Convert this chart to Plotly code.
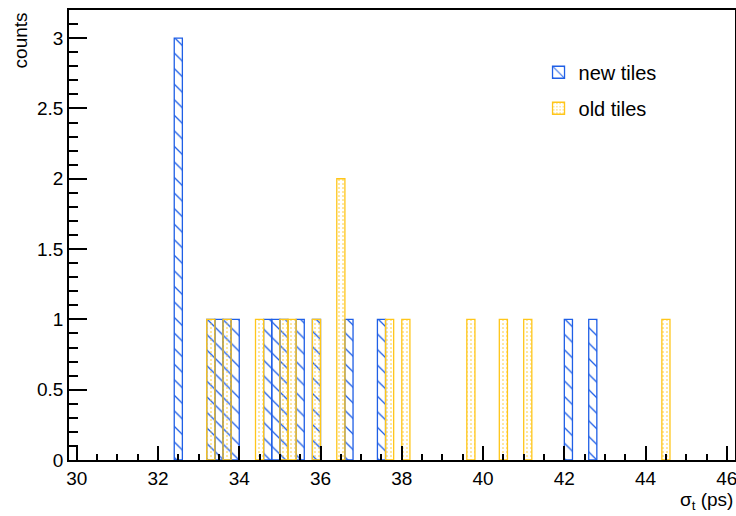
import plotly.graph_objects as go

# Bin width 0.2, bins starting at 29.8
bin_width = 0.2
new_centers = [32.5, 33.3, 33.5, 33.7, 33.9, 34.7, 34.9, 35.1, 35.5, 35.9, 36.7, 37.5, 42.1, 42.7]
new_counts = [3, 1, 1, 1, 1, 1, 1, 1, 1, 1, 1, 1, 1, 1]
old_centers = [33.3, 33.7, 34.5, 35.1, 35.3, 35.9, 36.5, 37.7, 38.1, 39.7, 40.5, 41.1, 44.5]
old_counts = [1, 1, 1, 1, 1, 1, 2, 1, 1, 1, 1, 1, 1]

blue = "#1f5fe6"
yellow = "#ffc61a"
font = "Liberation Sans, Arial, sans-serif"

fig = go.Figure()
fig.add_trace(go.Bar(
    x=new_centers, y=new_counts, width=bin_width, name="new tiles",
    legendgroup="new",
    marker=dict(color="rgba(0,0,0,0)", line=dict(color=blue, width=1.3),
                pattern=dict(shape="\\", fgcolor=blue, bgcolor="rgba(0,0,0,0)",
                             size=11, solidity=0.12, fillmode="replace")),
))
fig.add_trace(go.Bar(
    x=old_centers, y=old_counts, width=bin_width, name="old tiles",
    legendgroup="old",
    marker=dict(color="rgba(0,0,0,0)", line=dict(color=yellow, width=1.3),
                pattern=dict(shape=".", fgcolor=yellow, bgcolor="rgba(0,0,0,0)",
                             size=4, solidity=0.12, fillmode="replace")),
))

fig.update_layout(
    width=736, height=516,
    margin=dict(l=69, r=1, t=10, b=56),
    paper_bgcolor="white", plot_bgcolor="white",
    barmode="overlay",
    font=dict(family=font, size=19, color="black"),
    showlegend=True,
    legend=dict(x=0.705, y=0.905, xanchor="left", yanchor="top",
                bgcolor="rgba(0,0,0,0)", font=dict(size=20), itemwidth=30,
                traceorder="grouped", tracegroupgap=7),
    xaxis=dict(range=[29.81, 46.2], showgrid=False, zeroline=False,
               showline=True, linecolor="black", linewidth=1.5, mirror=True,
               ticks="inside", ticklen=14, tickwidth=1.5, tickcolor="black",
               tick0=30, dtick=2, automargin=False, ticklabeloverflow="allow",
               minor=dict(ticks="inside", ticklen=6, dtick=0.5, tickcolor="black", tickwidth=1.5),
               tickfont=dict(size=19)),
    yaxis=dict(range=[0, 3.2], showgrid=False, zeroline=False,
               showline=True, linecolor="black", linewidth=1.5, mirror=True,
               ticks="inside", ticklen=18, tickwidth=1.5, tickcolor="black",
               tick0=0, dtick=0.5, tickformat="~g", automargin=False,
               minor=dict(ticks="inside", ticklen=9, dtick=0.1, tickcolor="black", tickwidth=1.5),
               tickfont=dict(size=19)),
    annotations=[
        dict(text="σ<sub>t</sub> (ps)", xref="paper", yref="paper", x=1.0, y=-0.09,
             xanchor="right", yanchor="middle", showarrow=False, font=dict(size=19)),
        dict(text="counts", xref="paper", yref="paper", x=-0.073, y=1.0,
             xanchor="center", yanchor="top", textangle=-90, showarrow=False,
             font=dict(size=19)),
    ],
)

fig.write_html("out.html", config={"displayModeBar": False},
               post_script="document.body.style.margin='0px';")
